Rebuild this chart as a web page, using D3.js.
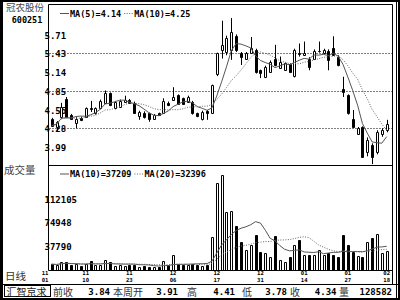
<!DOCTYPE html>
<html><head><meta charset="utf-8">
<script src="https://cdn.jsdelivr.net/npm/d3@7"></script>
<style>html,body{margin:0;padding:0;background:#fff;}svg{display:block}</style>
</head><body>
<svg id="c" width="400" height="300"></svg>
<script>
// ---- data ----
const openP  = [4.42,4.30,4.46,4.73,4.48,4.36,4.44,4.45,4.59,4.51,4.59,4.67,4.82,4.59,4.61,4.69,4.71,4.67,4.47,4.52,4.51,4.43,4.51,4.51,4.67,4.71,4.79,4.74,4.69,4.69,4.51,4.42,4.55,4.52,5.12,5.48,5.45,5.48,5.70,5.44,5.35,5.43,5.48,5.17,5.07,5.15,5.35,5.21,5.17,5.27,5.08,5.44,5.41,5.35,5.35,5.46,5.44,5.47,5.51,5.38,4.89,4.79,4.43,4.20,4.30,3.91,4.02,3.92,4.20,4.26];
const highP  = [4.44,4.39,4.67,4.76,4.50,4.45,4.46,4.60,4.70,4.60,4.72,4.86,4.83,4.70,4.72,4.78,4.73,4.69,4.55,4.54,4.52,4.50,4.52,4.74,4.69,4.91,4.80,4.75,4.78,4.70,4.52,4.55,4.56,4.95,5.44,5.93,5.70,5.97,5.72,5.45,5.45,5.68,5.50,5.18,5.24,5.32,5.56,5.38,5.29,5.28,5.50,5.58,5.61,5.37,5.49,5.61,5.50,5.49,5.69,5.40,5.07,4.80,4.56,4.30,4.31,4.14,4.05,4.25,4.28,4.41];
const lowP   = [4.30,4.23,4.42,4.44,4.41,4.28,4.39,4.44,4.53,4.49,4.57,4.66,4.62,4.57,4.60,4.67,4.66,4.50,4.41,4.43,4.38,4.42,4.47,4.50,4.62,4.70,4.65,4.64,4.67,4.49,4.45,4.40,4.41,4.51,5.08,5.35,5.40,5.33,5.45,5.25,5.33,5.42,5.12,5.05,5.05,5.13,5.23,5.20,5.16,5.13,5.06,5.38,5.39,5.17,5.34,5.44,5.43,5.17,5.39,5.23,4.76,4.49,4.29,4.18,3.84,3.85,3.73,3.88,4.15,4.22];
const closeP = [4.32,4.37,4.61,4.46,4.43,4.43,4.41,4.59,4.57,4.59,4.70,4.82,4.64,4.69,4.70,4.71,4.67,4.52,4.53,4.45,4.43,4.48,4.48,4.70,4.64,4.76,4.66,4.66,4.76,4.51,4.47,4.53,4.51,4.94,5.43,5.56,5.67,5.76,5.48,5.38,5.43,5.51,5.15,5.13,5.22,5.30,5.25,5.29,5.28,5.15,5.48,5.42,5.43,5.22,5.47,5.47,5.48,5.33,5.40,5.25,4.84,4.51,4.30,4.28,3.84,4.10,3.84,4.23,4.25,4.34];
const volume = [9000,8000,12000,12500,8000,9000,6000,9000,14000,7000,8000,15000,12000,6000,7000,6000,7000,8000,5000,6000,5000,4000,5000,14000,7000,23000,10000,8000,7000,9000,8000,6000,7000,52000,138000,150000,92000,93000,70000,45000,31000,39000,56000,28000,26000,20000,54000,15000,12000,20000,39000,47000,23000,23000,23000,31000,23000,26000,23000,20000,55000,40000,28000,22000,20000,45000,50000,57000,27000,30000];

const priceTicks = [5.71,5.43,5.14,4.85,4.56,4.28,3.99];
const priceGrid = [5.43,4.85,4.28];
const volTicks = [112105,74948,37790];
const dates = ["11/01","11/10","11/23","12/06","12/17","12/31","01/14","01/27","02/18"];
const dateIdx = [0,7,16,25,34,43,52,61,69];
const priceLegend = ["MA(5)=4.14","MA(10)=4.25"];
const volLegend = ["MA(10)=37209","MA(20)=32396"];
const infoNames = ["前收","本周开","高","低","收","量"];
const infoValues = ["3.84","3.91","4.41","3.78","4.34","128582"];
const stockName = "冠农股份", stockCode = "600251";

// ---- layout ----
const L = 48.5, R = 392.5, T = 4.5, SEP = 165.5, VB = 270.5;
const mono = "'DejaVu Sans Mono', monospace";
const cjk = "'Noto Sans CJK SC', sans-serif";

const xS = d3.scaleLinear().domain([0, 69]).range([51.7, 386.7]);
const yP = d3.scaleLinear().domain([4.28, 5.43]).range([128.3, 53.3]);
const yV = d3.scaleLinear().domain([0, 112105]).range([269.8, 199.3]);

const svg = d3.select("#c");
svg.append("rect").attr("width",400).attr("height",300).attr("fill","#fff");

function line(x1,y1,x2,y2,opt={}) {
  return svg.append("line").attr("x1",x1).attr("y1",y1).attr("x2",x2).attr("y2",y2)
    .attr("stroke",opt.c||"#000").attr("stroke-width",opt.w||1)
    .attr("stroke-dasharray",opt.d||null);
}
function text(x,y,s,opt={}) {
  return svg.append("text").attr("x",x).attr("y",y).text(s)
    .attr("font-family",opt.f||mono).attr("font-size",opt.s||9)
    .attr("font-weight",opt.b?"bold":"normal").attr("fill",opt.c||"#000")
    .attr("text-anchor",opt.a||"start");
}

// outer frame
svg.append("rect").attr("x",1).attr("y",1).attr("width",398).attr("height",298)
  .attr("fill","none").attr("stroke","#000").attr("stroke-width",2);
line(1.5,0,1.5,300,{w:3});
line(396.5,0,396.5,300);
line(R,T,R,284.5);
// chart box
line(L,T,R,T);
line(L,T,L,VB);
line(L,SEP,R,SEP);
line(L,VB,R,VB);
line(0,284.5,400,284.5);

// grid
priceGrid.forEach(p => {
  const y = Math.round(yP(p)) + 0.5;
  line(L+1,y,R,y,{d:"1,2"});
});

// price tick labels
priceTicks.forEach(p => text(44.5, yP(p)+3.5, p.toFixed(2), {b:true, s:9}));
// volume tick labels
volTicks.forEach(v => text(44.5, yV(v)+3.5, String(v), {b:true, s:9}));

// names
text(25, 10.5, stockName, {f:cjk, s:9.5, c:"#444", a:"middle"});
text(27, 22.5, stockCode, {b:true, s:8.5, a:"middle"});
text(4, 174, "成交量", {f:cjk, s:10.5, c:"#444"});
text(5, 280, "日线", {f:cjk, s:10.5, c:"#333"});

// MA helpers
function ma(arr, n) {
  return arr.map((_, i) => {
    const s = Math.max(0, i - n + 1);
    return d3.mean(arr.slice(s, i + 1));
  });
}
const ma5 = ma(closeP, 5), ma10 = ma(closeP, 10);
const vma10 = ma(volume, 10), vma20 = ma(volume, 20);

// clip paths
const defs = svg.append("defs");
defs.append("clipPath").attr("id","cp").append("rect").attr("x",L+0.5).attr("y",T+0.5).attr("width",R-L-1).attr("height",SEP-T-1);
defs.append("clipPath").attr("id","cv").append("rect").attr("x",L+0.5).attr("y",SEP+0.5).attr("width",R-L-1).attr("height",VB-SEP-1);

const gp = svg.append("g").attr("clip-path","url(#cp)");
const gv = svg.append("g").attr("clip-path","url(#cv)");

// candles + volume bars
d3.range(closeP.length).forEach(i => {
  const cx = Math.round(xS(i)) + 0.5;
  const up = closeP[i] >= openP[i];
  const yTop = Math.round(yP(Math.max(openP[i], closeP[i]))) + 0.5;
  const yBot = Math.round(yP(Math.min(openP[i], closeP[i]))) + 0.5;
  gp.append("line").attr("x1",cx).attr("x2",cx)
    .attr("y1",yP(highP[i])).attr("y2",yP(lowP[i])).attr("stroke","#000");
  gp.append("path").attr("d",`M${cx-1},${yTop}H${cx+1}V${yBot}H${cx-1}Z`)
    .attr("fill", up ? "#fff" : "#000").attr("stroke","#000");
  const vy = Math.round(yV(volume[i])) + 0.5;
  gv.append("path").attr("d",`M${cx-1},${VB}V${vy}H${cx+1}V${VB}`)
    .attr("fill", up ? "#fff" : "#000").attr("stroke","#000");
});

// MA lines
const lp = d3.line().x((d,i)=>xS(i)).y(d=>yP(d));
gp.append("path").attr("d",lp(ma5)).attr("fill","none").attr("stroke","#555").attr("stroke-width",1);
gp.append("path").attr("d",lp(ma10)).attr("fill","none").attr("stroke","#666").attr("stroke-width",1).attr("stroke-dasharray","1,1.5");
const lv = d3.line().x((d,i)=>xS(i)).y(d=>yV(d));
gv.append("path").attr("d",lv(vma10)).attr("fill","none").attr("stroke","#555").attr("stroke-width",1);
gv.append("path").attr("d",lv(vma20)).attr("fill","none").attr("stroke","#666").attr("stroke-width",1).attr("stroke-dasharray","1,1.5");

// legends
function legend(y, labels) {
  line(60, y, 69, y, {c:"#555"});
  text(70, y+3, labels[0], {b:true, s:8.5});
  const x2 = 70 + labels[0].length*5.12 + 3;
  line(x2, y, x2+9, y, {c:"#666", d:"1,1.5"});
  text(x2+10, y+3, labels[1], {b:true, s:8.5});
}
legend(13.5, priceLegend);
legend(174, volLegend);

// date labels: month above day
dates.forEach((s, k) => {
  const [m, d] = s.split("/");
  let x = xS(dateIdx[k]), a = "middle";
  if (x - 4.5 < L) { x = L; a = "end"; }
  text(x, 275.3, m, {b:true, s:5.6, a});
  text(x, 282.0, d, {b:true, s:5.6, a});
});

// bottom info bar
svg.append("rect").attr("x",4.5).attr("y",285.5).attr("width",46).attr("height",11)
  .attr("fill","none").attr("stroke","#000");
text(6.5, 295.8, "汇智京求", {f:cjk, s:10, c:"#222"});
const nameX = [53,113,187,242,290,339];
const valX = [110,178,235,287,336.5,392];
infoNames.forEach((n,k) => text(nameX[k], 295.8, n, {f:cjk, s:10, c:"#333"}));
infoValues.forEach((v,k) => text(valX[k], 294.5, v, {b:true, s:9, a:"end"}));
</script>
</body></html>
